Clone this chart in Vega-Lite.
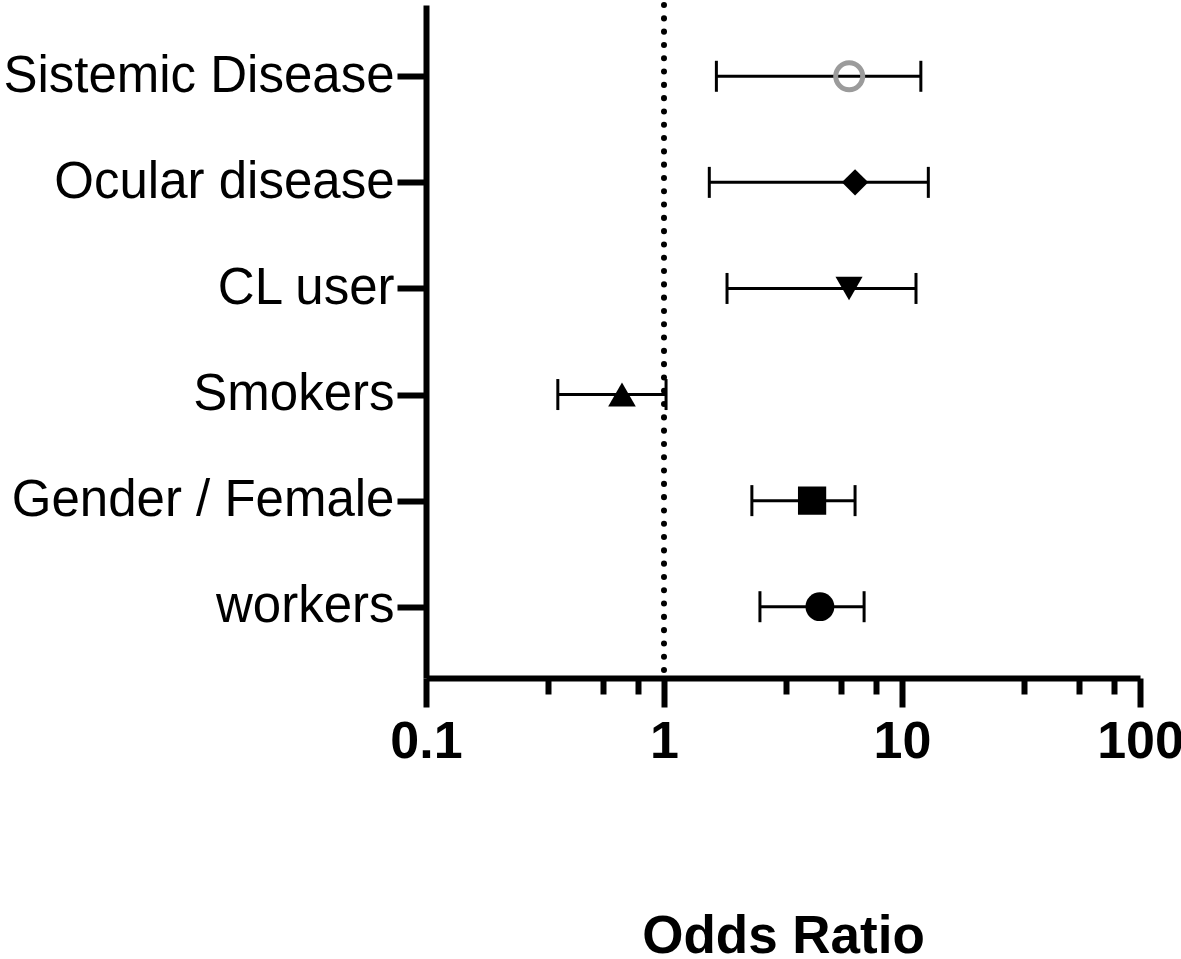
{
  "$schema": "https://vega.github.io/schema/vega-lite/v6.json",
  "autosize": {"type": "none"},
  "width": 714,
  "height": 673,
  "padding": {"left": 426, "top": 5, "right": 41, "bottom": 281},
  "background": "white",
  "config": {"view": {"stroke": null}, "font": "Liberation Sans"},
  "data": {
    "values": [
      {"factor": "Sistemic Disease", "or": 6.0, "lo": 1.66, "hi": 12.0},
      {"factor": "Ocular disease", "or": 6.35, "lo": 1.55, "hi": 12.9},
      {"factor": "CL user", "or": 5.99, "lo": 1.84, "hi": 11.45},
      {"factor": "Smokers", "or": 0.666, "lo": 0.358, "hi": 1.02},
      {"factor": "Gender / Female", "or": 4.19, "lo": 2.34, "hi": 6.35},
      {"factor": "workers", "or": 4.52, "lo": 2.53, "hi": 6.93}
    ]
  },
  "layer": [
    {
      "mark": {"type": "rule", "color": "black", "strokeWidth": 3, "opacity": 1},
      "encoding": {
        "y": {
          "field": "factor", "type": "nominal",
          "sort": ["Sistemic Disease", "Ocular disease", "CL user", "Smokers", "Gender / Female", "workers"],
          "scale": {"type": "point", "padding": 0.672},
          "axis": {
            "title": null,
            "domainColor": "black", "domainWidth": 6, "domainOpacity": 1,
            "tickColor": "black", "tickWidth": 6, "tickSize": 29, "tickOpacity": 1,
            "labelFont": "Liberation Sans", "labelFontSize": 51, "labelColor": "black",
            "labelPadding": 3, "labelLimit": 0,
            "labelExpr": "datum.label === 'workers' ? 'workers\u00a0' : datum.label"
          }
        },
        "x": {
          "field": "lo", "type": "quantitative",
          "scale": {"type": "log", "domain": [0.1, 100], "nice": false},
          "axis": {
            "title": "Odds Ratio",
            "titleFont": "Liberation Sans", "titleFontSize": 53, "titleFontWeight": "bold", "titleColor": "black",
            "titleBaseline": "alphabetic", "titleY": 274,
            "values": [0.1, 0.325, 0.552, 0.777, 1, 3.25, 5.52, 7.77, 10, 32.5, 55.2, 77.7, 100],
            "domainColor": "black", "domainWidth": 6,
            "tickColor": "black", "tickWidth": 6,
            "tickSize": {"condition": {"test": "datum.value == 0.1 || datum.value == 1 || datum.value == 10 || datum.value == 100", "value": 29}, "value": 16},
            "labelExpr": "datum.value == 0.1 ? '0.1' : datum.value == 1 ? '1' : datum.value == 10 ? '10' : datum.value == 100 ? '100' : ''",
            "labelFont": "Liberation Sans", "labelFontSize": 52, "labelFontWeight": "bold", "labelColor": "black",
            "labelPadding": 9, "labelOverlap": false, "labelBound": false, "labelFlush": false,
            "grid": false
          }
        },
        "x2": {"field": "hi"}
      }
    },
    {
      "data": {"values": [{"ref": 1}]},
      "mark": {"type": "rule", "color": "black", "strokeWidth": 6, "strokeDash": [0.1, 13.2], "strokeCap": "round", "opacity": 1},
      "encoding": {"x": {"field": "ref", "type": "quantitative"}}
    },
    {
      "mark": {"type": "tick", "color": "black", "thickness": 3, "size": 31, "orient": "vertical", "opacity": 1},
      "encoding": {
        "y": {"field": "factor", "type": "nominal", "sort": ["Sistemic Disease", "Ocular disease", "CL user", "Smokers", "Gender / Female", "workers"]},
        "x": {"field": "lo", "type": "quantitative"}
      }
    },
    {
      "mark": {"type": "tick", "color": "black", "thickness": 3, "size": 31, "orient": "vertical", "opacity": 1},
      "encoding": {
        "y": {"field": "factor", "type": "nominal", "sort": ["Sistemic Disease", "Ocular disease", "CL user", "Smokers", "Gender / Female", "workers"]},
        "x": {"field": "hi", "type": "quantitative"}
      }
    },
    {
      "transform": [{"filter": "datum.factor !== 'Sistemic Disease'"}],
      "mark": {"type": "point", "filled": true, "opacity": 1, "color": "black", "strokeWidth": 0},
      "encoding": {
        "y": {"field": "factor", "type": "nominal", "sort": ["Sistemic Disease", "Ocular disease", "CL user", "Smokers", "Gender / Female", "workers"]},
        "x": {"field": "or", "type": "quantitative"},
        "shape": {
          "field": "factor", "type": "nominal", "legend": null,
          "scale": {
            "domain": ["Ocular disease", "CL user", "Smokers", "Gender / Female", "workers"],
            "range": ["diamond", "triangle-down", "triangle-up", "square", "circle"]
          }
        },
        "size": {
          "field": "factor", "type": "nominal", "legend": null,
          "scale": {
            "domain": ["Ocular disease", "CL user", "Smokers", "Gender / Female", "workers"],
            "range": [700, 830, 830, 729, 729]
          }
        }
      }
    },
    {
      "transform": [{"filter": "datum.factor === 'Sistemic Disease'"}],
      "mark": {"type": "point", "shape": "circle", "filled": false, "fill": null, "stroke": "#9b9b9b", "strokeWidth": 5, "size": 729, "opacity": 1},
      "encoding": {
        "y": {"field": "factor", "type": "nominal", "sort": ["Sistemic Disease", "Ocular disease", "CL user", "Smokers", "Gender / Female", "workers"]},
        "x": {"field": "or", "type": "quantitative"}
      }
    }
  ]
}
